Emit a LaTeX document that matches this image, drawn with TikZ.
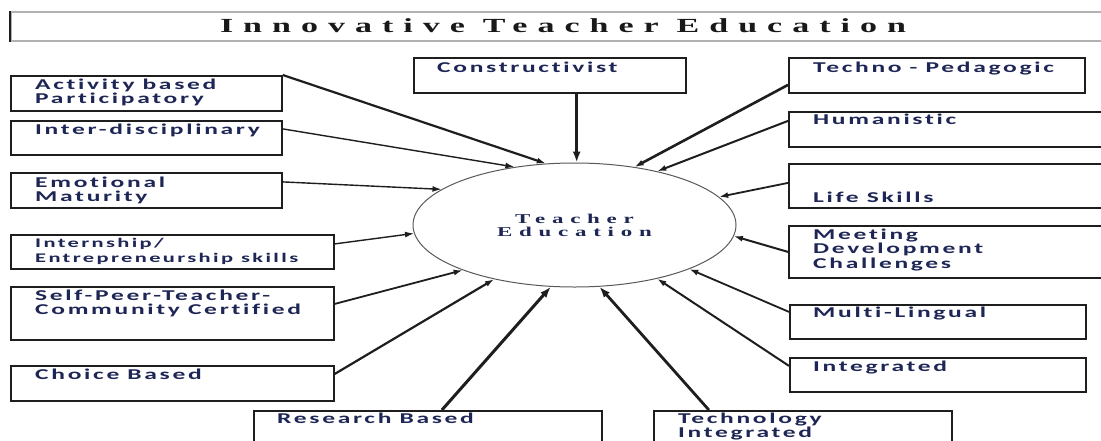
\documentclass[tikz,border=0pt]{standalone}
\usepackage{fontspec}
\usetikzlibrary{arrows.meta,shapes.geometric}
\newfontfamily\boxfont{Carlito Bold}[FakeStretch=1.7,LetterSpace=18,Ligatures={NoCommon,NoRequired,NoContextual}]
\newfontfamily\titlefont{Liberation Serif Bold}[FakeStretch=1.7,LetterSpace=50,Ligatures=NoCommon]
\newcommand\ws{\hspace{8pt}}
\newcommand\tws{\hspace{18pt}}
\definecolor{txt}{RGB}{30,38,85}
\definecolor{frame}{RGB}{30,30,30}
\begin{document}
\begin{tikzpicture}[x=1pt,y=-1pt,
  bx/.style={draw=frame,line width=1.8pt,rectangle,inner sep=0pt,anchor=north west},
  lbl/.style={anchor=base west,inner sep=0pt,text width=320pt,align=left,text=txt,font=\boxfont\fontsize{15}{14.5}\selectfont},
  arr/.style={-{Latex[length=9pt,width=6pt]},line width=1.4pt,draw=frame},
  thickarr/.style={-{Latex[length=11pt,width=8pt]},line width=3pt,draw=frame}]
\useasboundingbox (0,0) rectangle (1101,440);
\clip (0,0) rectangle (1101,440);
\fill[white] (0,0) rectangle (1101,440);
% title
\node[draw=gray!60,line width=1.5pt,rectangle,inner sep=0pt,anchor=north west,minimum width=1120pt,minimum height=29pt] (TT) at (10,11) {};
\draw[frame,line width=1.5pt] (TT.north west) -- (TT.south west);
\node[anchor=base,inner sep=0pt,text=black!90,font=\titlefont\fontsize{20}{22}\selectfont] (TTt) at (563,32) {Innovative\tws Teacher\tws Education};
% centre
\node[draw=black!65,line width=1pt,ellipse,minimum width=323pt,minimum height=124pt,inner sep=0pt,align=center,text=txt,font=\titlefont\fontsize{13.5}{13}\selectfont] (TE) at (574.5,225) {Teacher\\Education};
% left boxes
\node[bx,minimum width=271pt,minimum height=35pt] (A) at (10,75) {};
\node[lbl] (tA) at ([shift={(25,14)}]A.north west) {Activity\ws based\\Participatory};
\node[bx,minimum width=271pt,minimum height=34pt] (B) at (10,120) {};
\node[lbl] (tB) at ([shift={(25,14)}]B.north west) {Inter-disciplinary};
\node[bx,minimum width=271pt,minimum height=35pt] (C) at (10,172) {};
\node[lbl] (tC) at ([shift={(25,15)}]C.north west) {Emotional\\Maturity};
\node[bx,minimum width=323pt,minimum height=34pt] (D) at (10,234) {};
\node[lbl,font=\boxfont\fontsize{13.2}{15}\selectfont] (tD) at ([shift={(25,13)}]D.north west) {Internship/\\Entrepreneurship\ws skills};
\node[bx,minimum width=323pt,minimum height=53pt] (E) at (10,286) {};
\node[lbl] (tE) at ([shift={(25,14)}]E.north west) {Self-Peer-Teacher-\\Community\ws Certified};
\node[bx,minimum width=323pt,minimum height=35pt] (F) at (10,365) {};
\node[lbl] (tF) at ([shift={(25,14)}]F.north west) {Choice\ws Based};
% bottom boxes
\node[bx,minimum width=348pt,minimum height=60pt] (R) at (253,410) {};
\node[lbl] (tR) at ([shift={(24,13)}]R.north west) {Research\ws Based};
\node[bx,minimum width=298pt,minimum height=60pt] (T) at (653,410) {};
\node[lbl] (tT) at ([shift={(25,13)}]T.north west) {Technology\\Integrated};
% top boxes
\node[bx,minimum width=272pt,minimum height=35pt] (K) at (413,57) {};
\node[lbl] (tK) at ([shift={(24,15)}]K.north west) {Constructivist};
\node[bx,minimum width=296pt,minimum height=35pt] (P) at (788,57) {};
\node[lbl] (tP) at ([shift={(25,15)}]P.north west) {Techno\ws -\ws Pedagogic};
% right boxes
\node[bx,minimum width=330pt,minimum height=35pt] (H) at (788,111) {};
\node[lbl] (tH) at ([shift={(25,13)}]H.north west) {Humanistic};
\node[bx,minimum width=330pt,minimum height=44pt] (L) at (788,163) {};
\node[lbl] (tL) at ([shift={(25,39)}]L.north west) {Life\ws Skills};
\node[bx,minimum width=330pt,minimum height=52pt] (G) at (788,225) {};
\node[lbl] (tG) at ([shift={(25,14)}]G.north west) {Meeting\\Development\\Challenges};
\node[bx,minimum width=296pt,minimum height=34pt] (M) at (789,304) {};
\node[lbl] (tM) at ([shift={(24,13.5)}]M.north west) {Multi-Lingual};
\node[bx,minimum width=296pt,minimum height=34pt] (I) at (789,357) {};
\node[lbl] (tI) at ([shift={(24,14)}]I.north west) {Integrated};
% connectors
\draw[arr,line width=2.2pt] (A.north east) -- (TE.115);
\draw[arr] ([yshift=9pt]B.east) -- (TE.136);
\draw[arr] ([yshift=8.5pt]C.east) -- (TE.165);
\draw[arr] ([yshift=8pt]D.east) -- (TE.-177);
\draw[arr,line width=1.8pt] ([yshift=9.5pt]E.east) -- (TE.-158);
\draw[arr,line width=2.2pt] ([yshift=9.5pt]F.east) -- (TE.-146);
\draw[thickarr] ([xshift=14pt]R.north) -- (TE.-111.6);
\draw[thickarr,line width=2.8pt] ([xshift=-94pt]T.north) -- (TE.-68);
\draw[arr,line width=2pt] ([yshift=9pt]I.west) -- (TE.-33.4);
\draw[arr,line width=1.8pt] ([yshift=10pt]M.west) -- (TE.-21.6);
\draw[arr,line width=2pt] (G.west) -- (TE.-4.2);
\draw[arr,line width=1.8pt] ([yshift=3pt]L.west) -- (TE.11.5);
\draw[arr,line width=2pt] ([yshift=8.5pt]H.west) -- (TE.33.7);
\draw[arr,line width=2.6pt] ([yshift=-9.5pt]P.west) -- (TE.44.7);
\draw[thickarr] (K.south -| TE.88) -- (TE.88);
\end{tikzpicture}
\end{document}
